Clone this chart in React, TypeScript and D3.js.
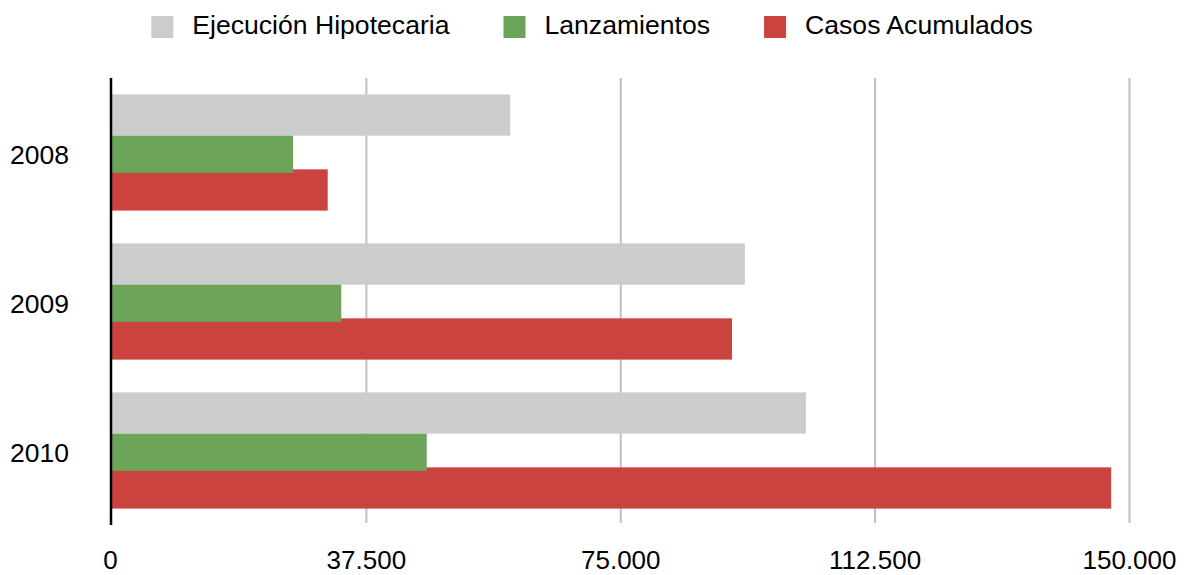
import { useEffect, useRef } from 'react';
import * as d3 from 'd3';

const years = ['2008', '2009', '2010'];
const seriesNames = ['Ejecución Hipotecaria', 'Lanzamientos', 'Casos Acumulados'];
const ejecucion = [58700, 93300, 102300];
const lanzamientos = [26700, 33800, 46400];
const acumulados = [31800, 91400, 147300];
const tickValues = [0, 37500, 75000, 112500, 150000];

const colors = ['#cbcccb', '#6ca55a', '#cb433f'];
const FONT = '"Liberation Sans", Helvetica, Arial, sans-serif';

export default function App() {
    const svgRef = useRef<SVGSVGElement>(null);

    useEffect(() => {
        document.body.style.margin = '0';
        if (!svgRef.current) return;
        const width = 1184;
        const height = 575;

        const svg = d3.select(svgRef.current);
        svg.selectAll('*').remove();
        svg.attr('width', width).attr('height', height);

        const top = 78;
        const bottom = 525;

        const x = d3.scaleLinear().domain([0, 150000]).range([112, 1129.5]);
        const y = d3.scaleBand<string>().domain(years).range([top, bottom]).paddingInner(0.22).paddingOuter(0.11);

        // gridlines
        svg.append('g')
            .selectAll('line')
            .data(tickValues.slice(1))
            .join('line')
            .attr('x1', d => x(d))
            .attr('x2', d => x(d))
            .attr('y1', top)
            .attr('y2', bottom - 2)
            .attr('stroke', '#c0c0c0')
            .attr('stroke-width', 2);

        // bars: grey, red, then green on top (it overlaps red slightly)
        const bw = y.bandwidth();
        const h = bw * 0.355;
        const layers = [
            { vals: ejecucion, color: colors[0], off: 0, h: h },
            { vals: acumulados, color: colors[2], off: bw - h, h: h },
            { vals: lanzamientos, color: colors[1], off: h, h: bw * 0.32 },
        ];
        layers.forEach(l => {
            svg.append('g')
                .selectAll('rect')
                .data(years)
                .join('rect')
                .attr('x', x(0))
                .attr('y', (d) => (y(d) as number) + l.off)
                .attr('width', (d, i) => x(l.vals[i]) - x(0))
                .attr('height', l.h)
                .attr('fill', l.color);
        });

        // axis line
        svg.append('line')
            .attr('x1', 111).attr('x2', 111)
            .attr('y1', top).attr('y2', bottom)
            .attr('stroke', '#000')
            .attr('stroke-width', 2.5);

        // x tick labels
        const fmt = (v: number) => d3.format(',')(v).replace(/,/g, '.');
        svg.append('g')
            .selectAll('text')
            .data(tickValues)
            .join('text')
            .attr('x', d => x(d) - (d === 0 ? 1.5 : 0))
            .attr('y', 569)
            .attr('text-anchor', 'middle')
            .attr('font-family', FONT)
            .attr('font-size', 26)
            .attr('fill', '#000')
            .text(d => fmt(d));

        // year labels
        svg.append('g')
            .selectAll('text')
            .data(years)
            .join('text')
            .attr('x', 69)
            .attr('y', d => (y(d) as number) + bw / 2 + 11)
            .attr('text-anchor', 'end')
            .attr('font-family', FONT)
            .attr('font-size', 26.5)
            .attr('fill', '#000')
            .text(d => d);

        // legend
        const legend = svg.append('g');
        const items = seriesNames.map((name, i) => {
            const g = legend.append('g');
            g.append('rect').attr('x', 0).attr('y', 16).attr('width', 22).attr('height', 22).attr('fill', colors[i]);
            const t = g.append('text')
                .attr('x', 41)
                .attr('y', 34)
                .attr('font-family', FONT)
                .attr('font-size', 26.6)
                .attr('fill', '#000')
                .text(name);
            const tw = (t.node() as SVGTextElement).getComputedTextLength();
            return { g, w: 41 + tw };
        });
        const gap = 54;
        const total = d3.sum(items, d => d.w) + gap * (items.length - 1);
        let cx = (width - total) / 2;
        items.forEach(it => {
            it.g.attr('transform', `translate(${cx},0)`);
            cx += it.w + gap;
        });
    }, []);

    return <svg ref={svgRef} style={{ display: 'block' }}></svg>;
}
